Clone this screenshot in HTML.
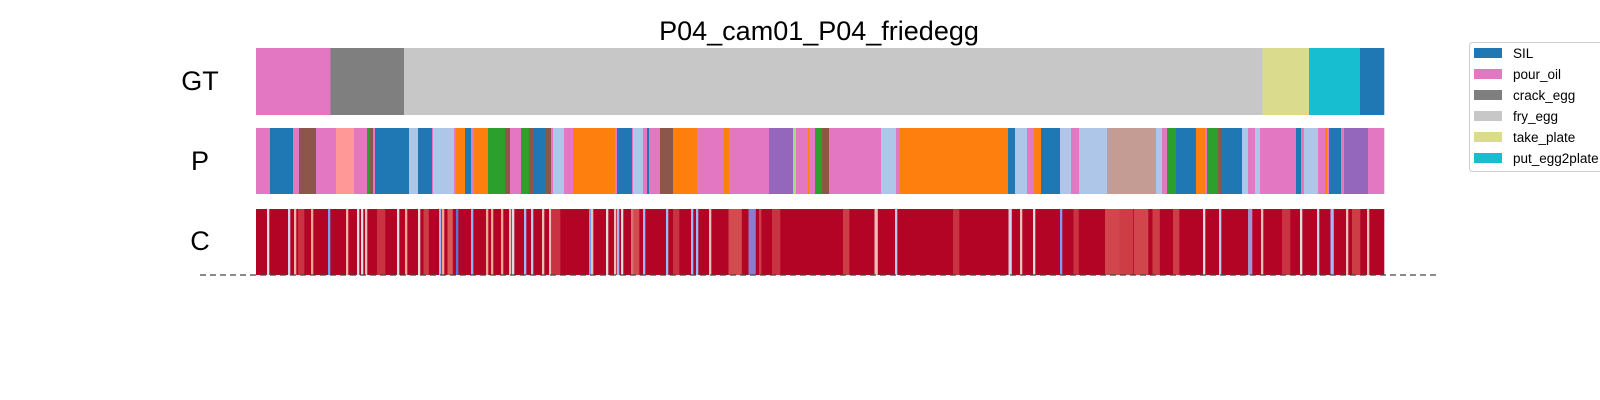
<!DOCTYPE html>
<html><head><meta charset="utf-8"><style>
body{margin:0;background:#fff;}
svg{display:block;font-family:"Liberation Sans","DejaVu Sans",sans-serif;}
</style></head><body>
<svg id="chart" width="1600" height="400">
<text x="819" y="40" text-anchor="middle" font-size="27" fill="#000">P04_cam01_P04_friedegg</text>
<text x="200" y="90" text-anchor="middle" font-size="27">GT</text>
<text x="200" y="170" text-anchor="middle" font-size="27">P</text>
<text x="200" y="250" text-anchor="middle" font-size="27">C</text>
<g id="gt"></g>
<g id="pr"></g>
<g id="cf"></g>
<line x1="200" y1="275" x2="1439" y2="275" stroke="#444" stroke-width="1.3" stroke-dasharray="6,4"/>
<g id="legend">
<rect x="1469.5" y="42.5" width="170" height="129" rx="3" fill="#fff" stroke="#ccc"/>
</g>
</svg>
<script>
const C={blue:'#1f77b4',lblue:'#aec7e8',orange:'#ff7f0e',green:'#2ca02c',lgreen:'#98df8a',salmon:'#ff9896',purple:'#9467bd',brown:'#8c564b',rosy:'#c49c94',pink:'#e377c2',gray:'#7f7f7f',lgray:'#c7c7c7',olive:'#dbdb8d',cyan:'#17becf'};
const TOTAL=1128;
const gtEnds=[74.5,148,1006.5,1053,1104,1128];
const gtLabels=['pink','gray','lgray','olive','cyan','blue'];
const pEnds=[14,37,43,60,80,98,111,114,117,119,153,162,176,177,198,200,209,215,218,232,249,254,265,273,277,289,295,297,308,317,359,361,376,377,387,391,393,404,417,441,468,473,513,537,540,552,553,559,566,573,625,640,644,752,759,771,778,785,804,815,823,851,900,906,911,920,940,949,951,962,965,986,992,999,1004,1040,1045,1048,1062,1069,1071,1073,1085,1088,1112,1128];
const pLabels=['pink','blue','pink','brown','pink','salmon','pink','green','brown','pink','blue','lblue','blue','pink','lblue','pink','orange','blue','pink','orange','green','brown','pink','green','brown','blue','brown','pink','lblue','pink','orange','pink','blue','pink','lblue','pink','blue','pink','brown','orange','pink','orange','pink','purple','lgreen','pink','orange','pink','green','brown','pink','lblue','pink','orange','blue','lblue','pink','orange','blue','lblue','pink','lblue','rosy','lblue','pink','green','blue','orange','pink','green','brown','blue','lblue','pink','lblue','pink','blue','pink','lblue','pink','orange','pink','blue','pink','purple','pink'];
const streakPos=[12,33,39,56,73,91,102,106,110,142,150,163,184,187,194,201,216,231,236,246,254,257,269,276,287,294,334,336,351,359,362,366,376,379,388,411,436,441,454,479,496,504,620,640,754,765,778,805,856,870,885,900,948,964,994,1006,1045,1062,1076,1091,1112,45,125,170,300,420,520,590,700,820,920,1030,1100];
const streakVal=[0.5,0.45,0.65,0.7,0.2,0.65,0.5,0.5,0.6,0.5,0.7,0.5,0.3,0.7,0.82,0.1,0.25,0.7,0.7,0.7,0.6,0.5,0.3,0.4,0.6,0.6,0.2,0.6,0.5,0.6,0.3,0.5,0.4,0.85,0.3,0.3,0.3,0.3,0.6,0.85,0.2,0.9,0.6,0.4,0.45,0.6,0.5,0.2,0.86,0.88,0.86,0.88,0.5,0.4,0.3,0.6,0.5,0.45,0.3,0.6,0.6,0.9,0.9,0.88,0.9,0.9,0.9,0.88,0.9,0.9,0.88,0.9,0.88];
const streakW=[2,2,2,2,2,2,2,2,2,2,2,2,2,2,5,2,2,2,2,2,2,2,2,2,2,2,2,2,2,2,2,2,2,8,2,2,2,2,2,13,7,2,3,2,3,2,2,2,14,14,14,7,2,2,4,2,2,2,3,2,2,6,8,5,8,6,8,6,6,5,6,8,8];
const legNames=['SIL','pour_oil','crack_egg','fry_egg','take_plate','put_egg2plate'];
const legColors=['blue','pink','gray','lgray','olive','cyan'];
const X0=256,X1=1384;
function x(u){return X0+u/TOTAL*(X1-X0);}
const NS='http://www.w3.org/2000/svg';
function rect(g,a,b,y,h,fill){const r=document.createElementNS(NS,'rect');r.setAttribute('x',x(a));r.setAttribute('width',Math.max(0.3,x(b)-x(a)+0.3));r.setAttribute('y',y);r.setAttribute('height',h);r.setAttribute('fill',fill);g.appendChild(r);return r;}
function cw(v){const stops=[[0,[59,76,192]],[0.25,[141,176,254]],[0.5,[221,221,221]],[0.75,[244,154,123]],[1,[180,4,38]]];
 for(let i=1;i<stops.length;i++){if(v<=stops[i][0]){const t=(v-stops[i-1][0])/(stops[i][0]-stops[i-1][0]);const a=stops[i-1][1],b=stops[i][1];return 'rgb('+a.map((c,k)=>Math.round(c+(b[k]-c)*t)).join(',')+')';}}return 'rgb(180,4,38)';}
const gt=document.getElementById('gt');let s=0;
gtEnds.forEach((e,i)=>{const r=rect(gt,s,e,48,67,C[gtLabels[i]]);


s=e;});
const pr=document.getElementById('pr');s=0;
pEnds.forEach((e,i)=>{const r=rect(pr,s,e,128,66,C[pLabels[i]]);


s=e;});
const cf=document.getElementById('cf');
const base=rect(cf,0,TOTAL,209,66,'#b40426');


streakPos.forEach((p,i)=>{const w=streakW[i];const r=rect(cf,p-w/2,p+w/2,209,66,cw(streakVal[i]));


if(w>3)r.setAttribute('opacity','0.8');});
const lg=document.getElementById('legend');
legNames.forEach((n,i)=>{const y=48+i*21;
const r=document.createElementNS(NS,'rect');r.setAttribute('x',1474);r.setAttribute('y',y);r.setAttribute('width',28);r.setAttribute('height',10);r.setAttribute('fill',C[legColors[i]]);


lg.appendChild(r);
const t=document.createElementNS(NS,'text');t.setAttribute('x',1513);t.setAttribute('y',y+10);t.setAttribute('font-size','13.5');t.textContent=n;


lg.appendChild(t);});
</script>
</body></html>
